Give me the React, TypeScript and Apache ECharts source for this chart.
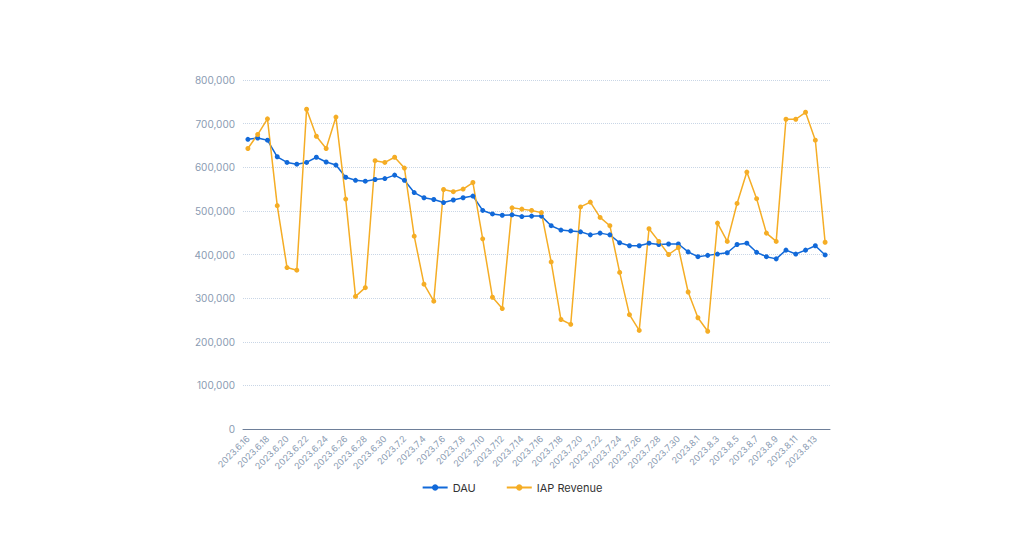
import React, { useEffect, useRef } from "react";
import * as echarts from "echarts";

const dates: string[] = [];
for (let d = 16; d <= 30; d++) dates.push(`2023.6.${d}`);
for (let d = 1; d <= 31; d++) dates.push(`2023.7.${d}`);
for (let d = 1; d <= 14; d++) dates.push(`2023.8.${d}`);

const dau = [664,667,662,624,611,607,611,623,612,605,577,570,568,572,574,582,570,542,530,526,519,525,530,534,501,493,490,491,487,488,
488,466,456,454,452,445,449,445,427,420,420,426,423,424,424,406,395,398,401,404,423,426,405,395,390,410,401,410,420,399].map(v => v * 1000);
const iap = [643,675,711,512,370,364,733,671,643,715,527,304,324,615,611,623,598,442,332,293,549,544,550,565,436,302,276,507,504,501,
496,383,251,240,509,520,485,466,359,262,226,459,430,400,416,314,255,224,472,430,517,589,528,449,430,710,710,726,662,428].map(v => v * 1000);

export default function App() {
  const ref = useRef<HTMLDivElement>(null);
  useEffect(() => {
    const chart = echarts.init(ref.current!, undefined, { renderer: "svg" });
    chart.setOption({
      animation: false,
      grid: { left: 235, right: 186, top: 72, bottom: 103 },
      legend: {
        bottom: 34, left: "center", itemGap: 30, itemWidth: 25, itemHeight: 8,
        textStyle: { color: "#333", fontSize: 11, fontFamily: "Inter" },
        data: ["DAU", "IAP Revenue"],
      },
      xAxis: {
        type: "category", data: dates, boundaryGap: true,
        axisLine: { lineStyle: { color: "#6e7f99" } },
        axisTick: { interval: 1, lineStyle: { color: "#6e7f99" } },
        axisLabel: { interval: 1, rotate: 45, color: "#8a9bb2", fontSize: 9, fontFamily: "Inter" },
      },
      yAxis: {
        type: "value", min: 0, max: 800000, interval: 100000,
        axisLabel: { color: "#8a9bb2", fontSize: 10, fontFamily: "Inter",
          formatter: (v: number) => v.toLocaleString("en-US") },
        splitLine: { lineStyle: { color: "#c9d6e6", type: "dotted" } },
      },
      series: [
        { name: "DAU", type: "line", data: dau, symbol: "circle", symbolSize: 5,
          itemStyle: { color: "#1169d9" }, lineStyle: { width: 1.5 } },
        { name: "IAP Revenue", type: "line", data: iap, symbol: "circle", symbolSize: 5,
          itemStyle: { color: "#f5ad25" }, lineStyle: { width: 1.5 } },
      ],
    });
    return () => chart.dispose();
  }, []);
  return <div ref={ref} style={{ width: 1008, height: 524 }} />;
}
